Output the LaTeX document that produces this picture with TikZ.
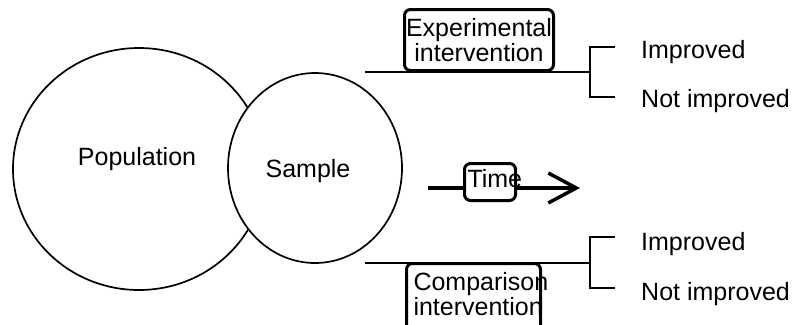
\documentclass[tikz,border=0pt]{standalone}
\usepackage{fontspec}
\setmainfont{Liberation Sans}
\usetikzlibrary{shapes}
\usetikzlibrary{arrows.meta}
\hyphenpenalty=10000
\tikzset{
  blob/.style={draw,ellipse,line width=1.7pt,inner sep=0pt,fill=white},
  word/.style={anchor=base,inner sep=0pt},
  armbox/.style={draw,rectangle,rounded corners=6pt,line width=3pt,fill=white,inner ysep=0pt},
  arm/.style={line width=1.6pt},
  timearrow/.style={line width=3.5pt,-{Straight Barb[length=28pt,width=30pt]}}
}

\begin{document}
\begin{tikzpicture}[x=1pt,y=-1pt,font=\fontsize{25}{25}\selectfont]
\useasboundingbox (0,0) rectangle (794,324);
% the two groups
\node[blob,minimum width=252pt,minimum height=242pt] (Pop)at(139,169){};
\node[blob,minimum width=174pt,minimum height=190pt] (Sam)at(315,168){};
\node[word] (PopT)at(137,165){Population};
\node[word] (SamT)at(308,177){Sample};
% upper arm
\coordinate (Ua)at(365,72);
\coordinate (Ub)at(590,72);
\coordinate (Ui)at(615,47);
\coordinate (Un)at(615,97);
\draw[arm] (Ua) -- (Ub);
\draw[arm] (Ui) -| (Ub) |- (Un);
\node[word,anchor=base west] (UiT)at(641,58){Improved};
\node[word,anchor=base west] (UnT)at(641,107){Not improved};
% lower arm
\coordinate (La)at(365,263);
\coordinate (Lb)at(590,263);
\coordinate (Li)at(615,237);
\coordinate (Ln)at(615,288);
\draw[arm] (La) -- (Lb);
\draw[arm] (Li) -| (Lb) |- (Ln);
\node[word,anchor=base west] (LiT)at(641,250){Improved};
\node[word,anchor=base west] (LnT)at(641,300){Not improved};
% time runs left to right
\coordinate (Ts)at(428,188);
\coordinate (Te)at(580,188);
\draw[timearrow] (Ts) -- (Te);
\node[armbox,text width=45pt,align=left,inner xsep=3pt,minimum height=37pt,text depth=7pt] (Time)at(490,182){Time};
% the two interventions
\node[armbox,text width=147pt,align=center,inner xsep=1pt,minimum height=61pt] (Exp)at(479,40){Experimental\\intervention};
\node[armbox,text width=120pt,align=left,inner xsep=7pt,minimum height=72pt,text depth=37pt] (Com)at(473.5,299.5){Comparison\\intervention};
\end{tikzpicture}
\end{document}
